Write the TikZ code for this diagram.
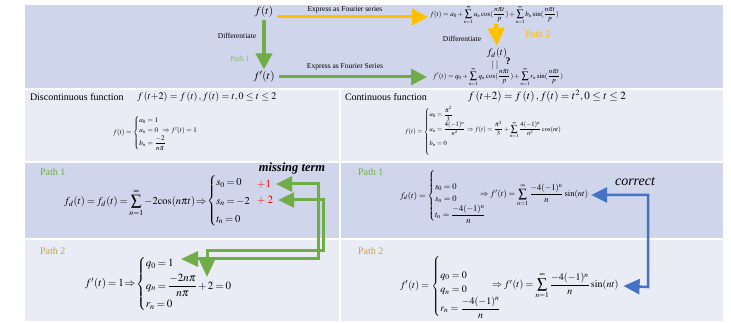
\documentclass[tikz,border=0pt]{standalone}
\usepackage{amsmath}
\usepackage{mathptmx}
\usepackage{fontspec}
\setmainfont{Liberation Serif}
\usetikzlibrary{arrows.meta,calc}
\definecolor{panelA}{HTML}{CFD5EA}
\definecolor{panelB}{HTML}{E9EBF5}
\definecolor{pgreen}{HTML}{70AD47}
\definecolor{porange}{HTML}{FFC000}
\definecolor{pblue}{HTML}{4472C4}
\definecolor{pgold}{HTML}{C9A23F}
\definecolor{pred}{HTML}{FF0000}
\newcommand{\tightmath}{\thickmuskip=3mu plus 1mu\medmuskip=2mu plus 1mu}
\tikzset{
  every node/.style={inner sep=0pt, outer sep=0pt},
  fsz/.style={font=\fontsize{#1pt}{1.2\dimexpr #1pt\relax}\selectfont},
  lbl/.style={font=\fontsize{7.5pt}{9pt}\selectfont},
  hdr/.style={font=\fontsize{10pt}{12pt}\selectfont},
  oarrow/.style={draw=porange, line width=3pt, -{Triangle[length=16pt,width=16pt]}},
  ogarrow/.style={draw=pgreen, line width=3pt, -{Triangle[length=16pt,width=16pt]}},
  vgarrow/.style={draw=pgreen, line width=4.5pt, -{Triangle[length=16pt,width=16pt]}},
  voarrow/.style={draw=porange, line width=4.5pt, -{Triangle[length=18pt,width=16pt]}},
  elbowg/.style={draw=pgreen, line width=3pt, line join=miter,
     {Triangle[length=16pt,width=15pt]}-{Triangle[length=17pt,width=15pt]}},
  elbowb/.style={draw=pblue, line width=2.5pt, line join=miter,
     {Triangle[length=16pt,width=15pt]}-{Triangle[length=16pt,width=15pt]}},
}
\begin{document}
\begin{tikzpicture}[x=1pt,y=-1pt]
\useasboundingbox (0,0) rectangle (731,323);
\fill[white] (0,0) rectangle (731,323);
% panels
\fill[panelA] (25,5) rectangle (723,88);
\fill[panelB] (25,90) rectangle (339,161);
\fill[panelB] (341,90) rectangle (723,161);
\fill[panelA] (25,163) rectangle (339,238);
\fill[panelA] (341,163) rectangle (723,238);
\fill[panelB] (25,240) rectangle (339,321);
\fill[panelB] (341,240) rectangle (723,321);

% ---------- top panel ----------
\node[fsz=11] (ft) at (264,12) {$f(t)$};
\node[fsz=11] (fpt) at (264,77) {$f'(t)$};
\node[lbl] (exp1) at (345,10) {Express as Fourier series};
\node[lbl] (exp2) at (345,67) {Express as Fourier Series};
\node[lbl] (diff1) at (237,36) {Differentiate};
\node[lbl, text=pgreen!85!white] (p1top) at (240,59) {Path 1};
\node[fsz=7, anchor=west] (four1) at (430,15)
  {$\displaystyle f(t)=a_0+\sum_{n=1}^{\infty}a_n\cos(\frac{n\pi t}{p})+\sum_{n=1}^{\infty}b_n\sin(\frac{n\pi t}{p})$};
\node[fsz=7, anchor=west] (four2) at (433,77)
  {$\displaystyle f'(t)=q_0+\sum_{n=1}^{\infty}q_n\cos(\frac{n\pi t}{p})+\sum_{n=1}^{\infty}r_n\sin(\frac{n\pi t}{p})$};
\node[lbl] (diff2) at (462,39) {Differentiate};
\node[hdr, text=porange] (p2top) at (538,34) {Path 2};
\node[fsz=10] (fd) at (497,53) {$f_d(t)$};
\node[fsz=9] (eqbars) at (495,65) {$|\;|$};
\node[fsz=10] (qmark) at (508,61) {\textbf{?}};
\coordinate (odstart) at (496,24);

\draw[oarrow] ($(ft.east)+(4,5)$) -- ($(four1.west)+(-2,2)$);
\draw[ogarrow] ($(fpt.east)+(4,0)$) -- ($(four2.west)+(-6,0)$);
\draw[vgarrow] ($(ft.south)+(0,3)$) -- ($(fpt.north)+(0,-2)$);
\draw[voarrow] (odstart) -- ($(fd.north)+(0,-2)$);

% ---------- row 2 ----------
\node[hdr, anchor=west] (disc) at (30,97) {Discontinuous function};
\node[fsz=10, anchor=west] (discdef) at (137,97)
  {$f\left(t{+}2\right)=f\left(t\right),f(t)=t,0\le t\le 2$};
\node[fsz=7, anchor=west] (discser) at (113,133)
  {$f(t)=\begin{cases} a_0=1\\ a_n=0\;\;\Rightarrow f'(t)=1\\ b_n=\dfrac{-2}{n\pi}\end{cases}$};
\node[hdr, anchor=west] (cont) at (345,97) {Continuous function};
\node[fsz=11, anchor=west] (contdef) at (468,96)
  {$f\left(t{+}2\right)=f\left(t\right),f(t)=t^2,0\le t\le 2$};
\node[fsz=6.5, anchor=west] (contser) at (405,132)
  {$f(t)=\begin{cases} a_0=\dfrac{\pi^2}{3}\\ a_n=\dfrac{4(-1)^n}{n^2}\Rightarrow f(t)=\dfrac{\pi^2}{3}+\displaystyle\sum_{n=1}^{\infty}\dfrac{4(-1)^n}{n^2}\cos(nt)\\ b_n=0\\ \\ \end{cases}$};

% ---------- row 3 ----------
\node[hdr, anchor=west, text=pgreen] (p1l) at (40,172) {Path 1};
\node[hdr, anchor=west, text=pgreen] (p1r) at (358,172) {Path 1};
\node[fsz=10.5, anchor=west] (pathonel) at (64,203)
  {\tightmath$f_d(t)=f_d(t)=\displaystyle\sum_{n=1}^{\infty}{-2}\!\cos(n\pi t)\!\Rightarrow$};
\node[fsz=10.5, anchor=west] (pathonecases) at (207,201)
  {\tightmath$\begin{cases}s_0=0\\[3pt] s_n=-2\\[3pt] t_n=0\end{cases}$};
\node[fsz=11, text=pred] (plusone) at (264,184) {$+1$};
\node[fsz=11, text=pred] (plustwo) at (265,200) {$+\;2$};
\node[font=\fontsize{12.5pt}{15pt}\selectfont\bfseries\itshape] (missing) at (292,168) {missing term};
\node[fsz=8.5, anchor=west] (pathoner) at (400,196)
  {$f_d(t)=\begin{cases}\\ s_0=0\\ s_n=0\\ t_n=\dfrac{-4(-1)^n}{n}\end{cases}$};
\node[fsz=8.5, anchor=west] (resone) at (480,195)
  {$\Rightarrow f'(t)=\displaystyle\sum_{n=1}^{\infty}\frac{-4(-1)^n}{n}\sin(nt)$};
\node[font=\fontsize{14pt}{16pt}\selectfont\itshape] (correct) at (635,182) {correct};

% ---------- row 4 ----------
\node[hdr, anchor=west, text=pgold] (p2l) at (40,251) {Path 2};
\node[hdr, anchor=west, text=pgold] (p2r) at (358,251) {Path 2};
\node[fsz=11, anchor=west] (pathtwol) at (85,284)
  {\tightmath$f'(t)=1\!\Rightarrow\!\begin{cases}q_0=1\\[3pt] q_n=\dfrac{-2n\pi}{n\pi}+2=0\\[3pt] r_n=0\end{cases}$};
\node[fsz=10, anchor=west] (pathtwor) at (400,286)
  {$f'(t)=\begin{cases}\\ q_0=0\\ q_n=0\\ r_n=\dfrac{-4(-1)^n}{n}\end{cases}$};
\node[fsz=10, anchor=west] (restwo) at (492,286)
  {$\Rightarrow f'(t)=\displaystyle\sum_{n=1}^{\infty}\frac{-4(-1)^n}{n}\sin(nt)$};

% ---------- connectors ----------
\coordinate (qzero) at (181,259);
\coordinate (twotop) at (207,277);
\draw[elbowg] ($(plusone.east)+(5,0)$) -| (318,259) -- (qzero);
\draw[elbowg] ($(plustwo.east)+(5,0)$) -| (323,251) -| (twotop);
\draw[elbowb] ($(resone.east)+(3,0)$) -| (648,287) -- ($(restwo.east)+(5,0)$);
\end{tikzpicture}
\end{document}
